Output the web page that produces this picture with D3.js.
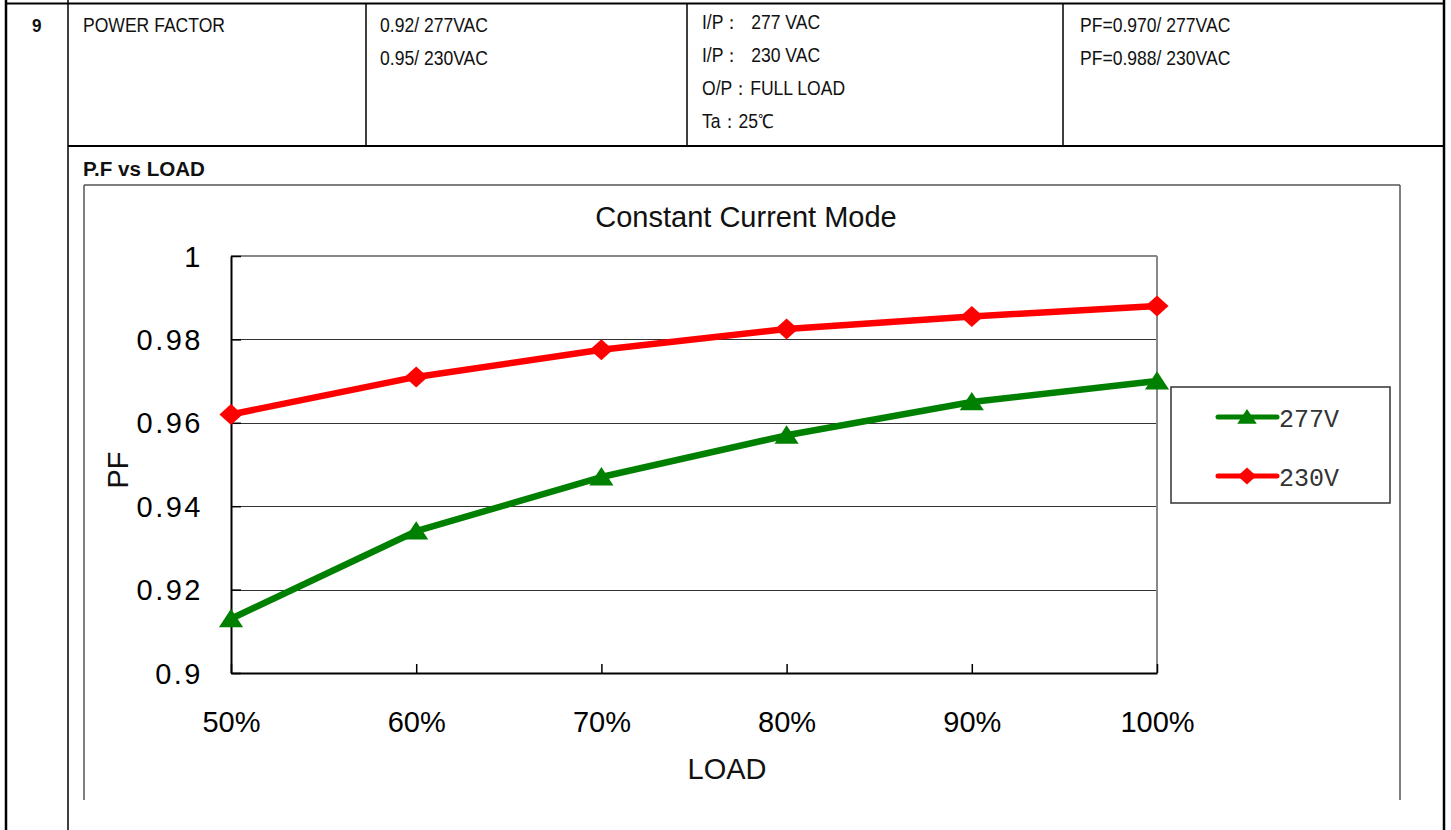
<!DOCTYPE html>
<html>
<head>
<meta charset="utf-8">
<script src="https://cdn.jsdelivr.net/npm/d3@7"></script>
<style>
  body { margin: 0; background: #fff; }
</style>
</head>
<body>
<script>
'use strict';

// chart data
var loads = ["50%", "60%", "70%", "80%", "90%", "100%"];
var pf277 = [0.913, 0.934, 0.947, 0.957, 0.965, 0.970];
var pf230 = [0.962, 0.971, 0.9775, 0.9825, 0.9855, 0.988];
var yTicks = [0.9, 0.92, 0.94, 0.96, 0.98, 1];
var yTickLabels = ["0.9", "0.92", "0.94", "0.96", "0.98", "1"];

// table text
var specLines = ["0.92/ 277VAC", "0.95/ 230VAC"];
var condLines = ["I/P：  277 VAC", "I/P：  230 VAC", "O/P：FULL LOAD", "Ta：25℃"];
var resultLines = ["PF=0.970/ 277VAC", "PF=0.988/ 230VAC"];

var series = [
  { name: "277V", values: pf277, color: "#008000", shape: "tri" },
  { name: "230V", values: pf230, color: "#ff0000", shape: "dia" }
];

var sans = "Liberation Sans, Arial, sans-serif";

var svg = d3.select("body").append("svg")
  .attr("width", 1451)
  .attr("height", 830);

// narrow text: squeeze horizontally
function narrowText(g, x, y, str, size, weight, sx) {
  return g.append("text")
    .attr("transform", "translate(" + x + "," + y + ") scale(" + (sx || 0.9) + ",1)")
    .attr("font-family", sans)
    .attr("font-size", size + "px")
    .attr("font-weight", weight || "normal")
    .attr("xml:space", "preserve")
    .attr("fill", "#111")
    .text(str);
}

function marker(shape, s) {
  if (shape === "tri") {
    return "M0," + (-s * 0.95) + "L" + (s * 1.15) + "," + (s * 0.8) + "L" + (-s * 1.15) + "," + (s * 0.8) + "Z";
  }
  return "M0," + (-s) + "L" + (s * 1.1) + ",0L0," + s + "L" + (-s * 1.1) + ",0Z";
}

// ---- table frame ----
var frame = svg.append("g").attr("stroke", "#000").attr("fill", "none");
frame.append("line").attr("x1", 6).attr("x2", 6).attr("y1", 0).attr("y2", 830).attr("stroke-width", 2.5);
frame.append("line").attr("x1", 1444).attr("x2", 1444).attr("y1", 0).attr("y2", 830).attr("stroke-width", 2.5);
frame.append("line").attr("x1", 68).attr("x2", 68).attr("y1", 0).attr("y2", 830).attr("stroke-width", 1.5);
frame.append("line").attr("x1", 6).attr("x2", 1444).attr("y1", 3.5).attr("y2", 3.5).attr("stroke-width", 2);
frame.append("line").attr("x1", 68).attr("x2", 1444).attr("y1", 146).attr("y2", 146).attr("stroke-width", 2);
[366, 687, 1063].forEach(function(x){
  frame.append("line").attr("x1", x).attr("x2", x).attr("y1", 3).attr("y2", 146).attr("stroke-width", 1.5);
});

var tbl = svg.append("g");
narrowText(tbl, 32, 32, "9", 19, "bold");
narrowText(tbl, 83, 32, "POWER FACTOR", 19.5);
specLines.forEach(function(d, i){ narrowText(tbl, 380, 32 + i * 32.5, d, 19.5); });
condLines.forEach(function(d, i){ narrowText(tbl, 702, 29 + i * 33, d, 19.5); });
resultLines.forEach(function(d, i){ narrowText(tbl, 1080, 32 + i * 32.5, d, 19.5); });
narrowText(tbl, 83, 176, "P.F vs LOAD", 21, "bold", 0.98);

// ---- chart box ----
var box = svg.append("g").attr("fill", "none").attr("stroke", "#555").attr("stroke-width", 1.5);
box.append("line").attr("x1", 84).attr("x2", 1400).attr("y1", 185).attr("y2", 185);
box.append("line").attr("x1", 84).attr("x2", 84).attr("y1", 185).attr("y2", 800);
box.append("line").attr("x1", 1400).attr("x2", 1400).attr("y1", 185).attr("y2", 800);

var x = d3.scalePoint().domain(loads).range([231, 1157]);
var y = d3.scaleLinear().domain([0.9, 1]).range([673, 256]);

// grid
svg.append("g").selectAll("line").data(yTicks.slice(1, 5)).enter().append("line")
  .attr("x1", 231).attr("x2", 1157)
  .attr("y1", function(d){ return Math.round(y(d)) + 0.5; })
  .attr("y2", function(d){ return Math.round(y(d)) + 0.5; })
  .attr("stroke", "#333").attr("stroke-width", 1);

// plot frame top/right (gray)
svg.append("line").attr("x1", 231).attr("x2", 1157).attr("y1", 256).attr("y2", 256)
  .attr("stroke", "#888").attr("stroke-width", 2);
svg.append("line").attr("x1", 1157).attr("x2", 1157).attr("y1", 256).attr("y2", 673)
  .attr("stroke", "#888").attr("stroke-width", 2);

// axes
var xAxis = d3.axisBottom(x).tickSizeInner(-9).tickSizeOuter(0).tickPadding(38);
var gx = svg.append("g").attr("transform", "translate(0,673)").call(xAxis);
gx.select(".domain").attr("stroke", "#000").attr("stroke-width", 2);
gx.selectAll(".tick line").attr("stroke", "#000").attr("stroke-width", 1.5);
gx.selectAll(".tick text").attr("font-family", sans)
  .attr("font-size", "29px").attr("fill", "#000");

var yAxis = d3.axisLeft(y).tickValues(yTicks)
  .tickFormat(function(d, i){ return yTickLabels[i]; })
  .tickSizeInner(-10).tickSizeOuter(0).tickPadding(28);
var gy = svg.append("g").attr("transform", "translate(231,0)").call(yAxis);
gy.select(".domain").attr("stroke", "#000").attr("stroke-width", 2);
gy.selectAll(".tick line").attr("stroke", "#000").attr("stroke-width", 1.5);
gy.selectAll(".tick text").attr("font-family", sans)
  .attr("font-size", "29px").attr("fill", "#000").attr("dy", "0.35em")
  .attr("letter-spacing", "2.5");

// titles
svg.append("text").attr("x", 746).attr("y", 227).attr("text-anchor", "middle")
  .attr("font-family", sans).attr("font-size", "29px").attr("fill", "#111")
  .text("Constant Current Mode");
svg.append("text").attr("x", 727).attr("y", 779).attr("text-anchor", "middle")
  .attr("font-family", sans).attr("font-size", "29px").attr("fill", "#111")
  .text("LOAD");
svg.append("text").attr("transform", "translate(128,470) rotate(-90)").attr("text-anchor", "middle")
  .attr("font-family", sans).attr("font-size", "29px").attr("fill", "#111")
  .text("PF");

// lines and markers
var line = d3.line()
  .x(function(d, i){ return x(loads[i]); })
  .y(function(d){ return y(d); });

series.forEach(function(s){
  svg.append("path").datum(s.values)
    .attr("d", line)
    .attr("fill", "none")
    .attr("stroke", s.color)
    .attr("stroke-width", 6.5)
    .attr("stroke-linejoin", "round");
  svg.append("g").selectAll("path").data(s.values).enter().append("path")
    .attr("transform", function(d, i){ return "translate(" + x(loads[i]) + "," + y(d) + ")"; })
    .attr("d", marker(s.shape, 10.5))
    .attr("fill", s.color);
});

// legend
var lg = svg.append("g");
lg.append("rect").attr("x", 1171).attr("y", 387).attr("width", 219).attr("height", 116)
  .attr("fill", "#fff").attr("stroke", "#333").attr("stroke-width", 1.5);
series.forEach(function(s, i){
  var ly = 417 + i * 59;
  lg.append("line").attr("x1", 1218).attr("x2", 1277).attr("y1", ly).attr("y2", ly)
    .attr("stroke", s.color).attr("stroke-width", 5).attr("stroke-linecap", "round");
  lg.append("path").attr("transform", "translate(1247," + ly + ")")
    .attr("d", marker(s.shape, 8.5))
    .attr("fill", s.color);
  lg.append("text").attr("x", 1279).attr("y", ly + 10)
    .attr("font-family", "Liberation Mono, DejaVu Sans Mono, monospace").attr("font-size", "25px")
    .attr("fill", "#333").text(s.name);
});
</script>
</body>
</html>
